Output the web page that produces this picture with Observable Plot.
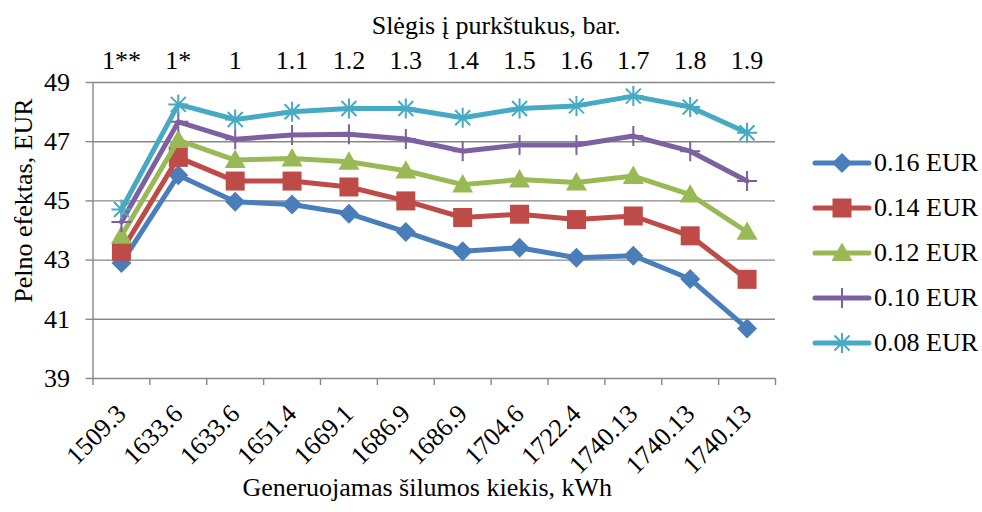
<!DOCTYPE html>
<html><head><meta charset="utf-8">
<script src="https://cdn.jsdelivr.net/npm/d3@7"></script>
<script src="https://cdn.jsdelivr.net/npm/@observablehq/plot@0.6"></script>
<style>
body{margin:0;background:#fff;}
#wrap{position:relative;width:982px;height:512px;font-family:"Liberation Serif","Times New Roman",serif;}
#legend{position:absolute;left:812px;top:140px;}
.row{display:flex;align-items:center;height:45px;font-size:26px;color:#000;white-space:nowrap;}
.row svg{margin-right:2px;}
</style></head>
<body><div id="wrap"><div id="chart"></div><div id="legend"></div></div>
<script>
const heatLabels = ["1509.3","1633.6","1633.6","1651.4","1669.1","1686.9","1686.9","1704.6","1722.4","1740.13","1740.13","1740.13"];
const pressureLabels = ["1**","1*","1","1.1","1.2","1.3","1.4","1.5","1.6","1.7","1.8","1.9"];
const seriesNames = ["0.16 EUR","0.14 EUR","0.12 EUR","0.10 EUR","0.08 EUR"];
const s016 = [42.9,45.87,44.97,44.88,44.57,43.95,43.30,43.42,43.08,43.15,42.36,40.69];
const s014 = [43.3,46.47,45.67,45.67,45.47,45.0,44.44,44.55,44.37,44.49,43.82,42.35];
const s012 = [43.82,47.05,46.38,46.43,46.32,46.02,45.55,45.72,45.62,45.84,45.21,43.95];
const s010 = [44.29,47.67,47.08,47.23,47.25,47.09,46.68,46.89,46.89,47.19,46.68,45.67];
const s008 = [44.71,48.26,47.75,48.01,48.12,48.12,47.81,48.12,48.21,48.54,48.17,47.30];
const yTicks = [39,41,43,45,47,49];
const yTitle = "Pelno efektas, EUR";
const xTitle = "Generuojamas šilumos kiekis, kWh";
const topTitle = "Slėgis į purkštukus, bar.";
const colors = ["#4A7EBB","#BE4B48","#98B954","#7D60A0","#46AAC5"];

const allSeries = [s016,s014,s012,s010,s008];
const data = allSeries.flatMap((arr,k)=>arr.map((v,i)=>({i, v, s: seriesNames[k]})));

const rad = size => Math.sqrt(size/Math.PI);
const diamond = {draw(c,size){const r=rad(size);c.moveTo(0,-r);c.lineTo(r,0);c.lineTo(0,r);c.lineTo(-r,0);c.closePath();}};
const square = {draw(c,size){const r=rad(size);c.rect(-r,-r,2*r,2*r);}};
const triangle = {draw(c,size){const r=rad(size);c.moveTo(0,-r);c.lineTo(r,r*0.75);c.lineTo(-r,r*0.75);c.closePath();}};
const plus = {draw(c,size){const r=rad(size);c.moveTo(0,-r);c.lineTo(0,r);c.moveTo(-r,0);c.lineTo(r,0);}};
const aster = {draw(c,size){const r=rad(size);const d=r*0.75;c.moveTo(-d,-d);c.lineTo(d,d);c.moveTo(-d,d);c.lineTo(d,-d);c.moveTo(0,-r);c.lineTo(0,r);c.moveTo(-r,0);c.lineTo(r,0);}};
const symbols = [diamond,square,triangle,plus,aster];
const filled = [true,true,true,false,false];
const radii = [10,9.5,10.5,10,10];

const grey = "#878787";
const font = "Liberation Serif, Times New Roman, serif";
const marks = [
  Plot.gridY(yTicks.slice(1), {stroke:grey, strokeOpacity:1, strokeWidth:1.4}),
  Plot.ruleY([39], {stroke:grey, strokeWidth:1.4}),
  Plot.ruleX([-0.5], {stroke:grey, strokeWidth:1.4}),
  Plot.axisY(yTicks, {tickSize:7, tickPadding:16, stroke:grey, strokeWidth:1.4, fill:"#000", label:null}),
  Plot.axisX(d3.range(13).map(i=>i-0.5), {anchor:"bottom", tickSize:7, stroke:grey, strokeWidth:1.4, tickFormat:()=>"", label:null}),
  Plot.axisX(d3.range(12), {anchor:"bottom", tickSize:0, tickRotate:-45, tickPadding:31, tickFormat:i=>heatLabels[i], fill:"#000", label:null}),
  Plot.axisX(d3.range(12), {anchor:"top", tickSize:0, tickPadding:14, tickFormat:i=>pressureLabels[i], fill:"#000", label:null}),
  Plot.text([yTitle], {frameAnchor:"left", rotate:-90, lineAnchor:"bottom", textAnchor:"middle", dx:-61, dy:-30, fill:"#000"}),
  Plot.text([xTitle], {frameAnchor:"bottom", lineAnchor:"bottom", textAnchor:"middle", dx:-7, dy:117, fill:"#000"}),
  Plot.text([topTitle], {frameAnchor:"top", lineAnchor:"bottom", textAnchor:"middle", dx:62, dy:-49, fill:"#000"})
];
seriesNames.forEach((name,k)=>{
  const d = data.filter(r=>r.s===name);
  marks.push(Plot.line(d, {x:"i", y:"v", stroke:colors[k], strokeWidth:5}));
  marks.push(Plot.dot(d, filled[k]
    ? {x:"i", y:"v", symbol:symbols[k], r:radii[k], fill:colors[k], stroke:"none"}
    : {x:"i", y:"v", symbol:symbols[k], r:radii[k], fill:"none", stroke:colors[k], strokeWidth:2}));
});

const chart = Plot.plot({
  width:982, height:512,
  marginLeft:92.5, marginRight:207, marginTop:82, marginBottom:134,
  style:{fontFamily:font, fontSize:"26px", color:"#000", background:"#fff", overflow:"visible"},
  x:{type:"linear", domain:[-0.5,11.5]},
  y:{domain:[39,49]},
  marks
});
document.getElementById("chart").appendChild(chart);

const leg = document.getElementById("legend");
seriesNames.forEach((name,k)=>{
  const row = document.createElement("div"); row.className="row";
  const svg = d3.create("svg").attr("width",60).attr("height",24);
  svg.append("line").attr("x1",3).attr("x2",57).attr("y1",12).attr("y2",12).attr("stroke",colors[k]).attr("stroke-width",5).attr("stroke-linecap","round");
  const p = d3.path(); symbols[k].draw(p, Math.PI*radii[k]*radii[k]);
  svg.append("path").attr("d",p.toString()).attr("transform","translate(30,12)")
    .attr("fill", filled[k]?colors[k]:"none").attr("stroke", filled[k]?"none":colors[k]).attr("stroke-width",2);
  row.appendChild(svg.node());
  const t = document.createElement("span"); t.textContent=name; row.appendChild(t);
  leg.appendChild(row);
});
</script>
</body></html>
